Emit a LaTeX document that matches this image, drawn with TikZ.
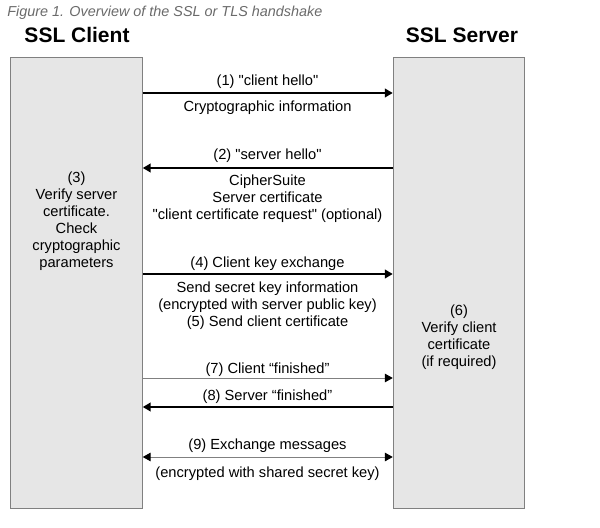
\documentclass[tikz,border=0pt]{standalone}
\usepackage{fontspec}
\setmainfont{Liberation Sans}
\usetikzlibrary{arrows.meta}
\definecolor{boxgray}{HTML}{E6E6E6}
\definecolor{edgegray}{HTML}{808080}
\definecolor{capgray}{HTML}{6A6A6A}
\begin{document}
\begin{tikzpicture}[x=0.75pt, y=-0.75pt,
	host/.style={rectangle, draw=edgegray, fill=boxgray, line width=0.75pt, minimum width=98.6pt, minimum height=337.5pt, inner sep=0pt},
	msg/.style={line width=1.5pt, -{Triangle[length=6pt, width=6.5pt]}},
	thinmsg/.style={draw=edgegray, line width=0.75pt, -{Triangle[length=6pt, width=6.5pt, color=black]}},
	lbl/.style={anchor=base, inner sep=0pt, font=\fontsize{11}{13}\selectfont}]
	\useasboundingbox (0,0) rectangle (600,528);
	
	\node[anchor=base west, inner sep=0pt, text=capgray, font=\fontsize{10.8}{13}\itshape] (caption) at (7,17) {Figure 1. Overview of the SSL or TLS handshake};
	\node[anchor=base, inner sep=0pt, font=\fontsize{15.75}{19}\bfseries] (clienttitle) at (77,43) {SSL Client};
	\node[anchor=base, inner sep=0pt, font=\fontsize{15.75}{19}\bfseries] (servertitle) at (462,43) {SSL Server};
	
	\node[host] (client) at (76.5,283) {};
	\node[host] (server) at (459,283) {};
	
	% client side notes
	\foreach \txt [count=\i] in {{(3)}, Verify server, certificate., Check, cryptographic, parameters}
		\node[lbl] (verify\i) at (76.5,165+17*\i) {\txt};
	% server side notes
	\foreach \txt [count=\i] in {{(6)}, Verify client, certificate, {(if required)}}
		\node[lbl] (check\i) at (459,298+17*\i) {\txt};
	
	% messages
	\draw[msg] (client.east |- 0,93) -- (server.west |- 0,93);
	\node[lbl] (hello) at (267.5,86) {(1) \textquotedbl client hello\textquotedbl};
	\node[lbl] (cryptoinfo) at (267.5,112) {Cryptographic information};
	
	\draw[msg] (server.west |- 0,168) -- (client.east |- 0,168);
	\node[lbl] (serverhello) at (267.5,159) {(2) \textquotedbl server hello\textquotedbl};
	\foreach \txt [count=\i] in {CipherSuite, Server certificate, \textquotedbl client certificate request\textquotedbl{} (optional)}
		\node[lbl] (suite\i) at (267.5,168+17*\i) {\txt};
	
	\draw[msg] (client.east |- 0,274) -- (server.west |- 0,274);
	\node[lbl] (keyexchange) at (267.5,267) {(4) Client key exchange};
	\foreach \txt [count=\i] in {Send secret key information, {(encrypted with server public key)}, {(5) Send client certificate}}
		\node[lbl] (secret\i) at (267.5,275+17*\i) {\txt};
	
	\draw[thinmsg] (client.east |- 0,378) -- (server.west |- 0,378);
	\node[lbl] (clientdone) at (267.5,373) {(7) Client “finished”};
	
	\draw[msg] (server.west |- 0,407) -- (client.east |- 0,407);
	\node[lbl] (serverdone) at (267.5,400) {(8) Server “finished”};
	
	\draw[thinmsg, {Triangle[length=6pt, width=6.5pt, color=black]}-{Triangle[length=6pt, width=6.5pt, color=black]}] (client.east |- 0,457) -- (server.west |- 0,457);
	\node[lbl] (exchange) at (267.5,449) {(9) Exchange messages};
	\node[lbl] (shared) at (267.5,477) {(encrypted with shared secret key)};
\end{tikzpicture}
\end{document}
